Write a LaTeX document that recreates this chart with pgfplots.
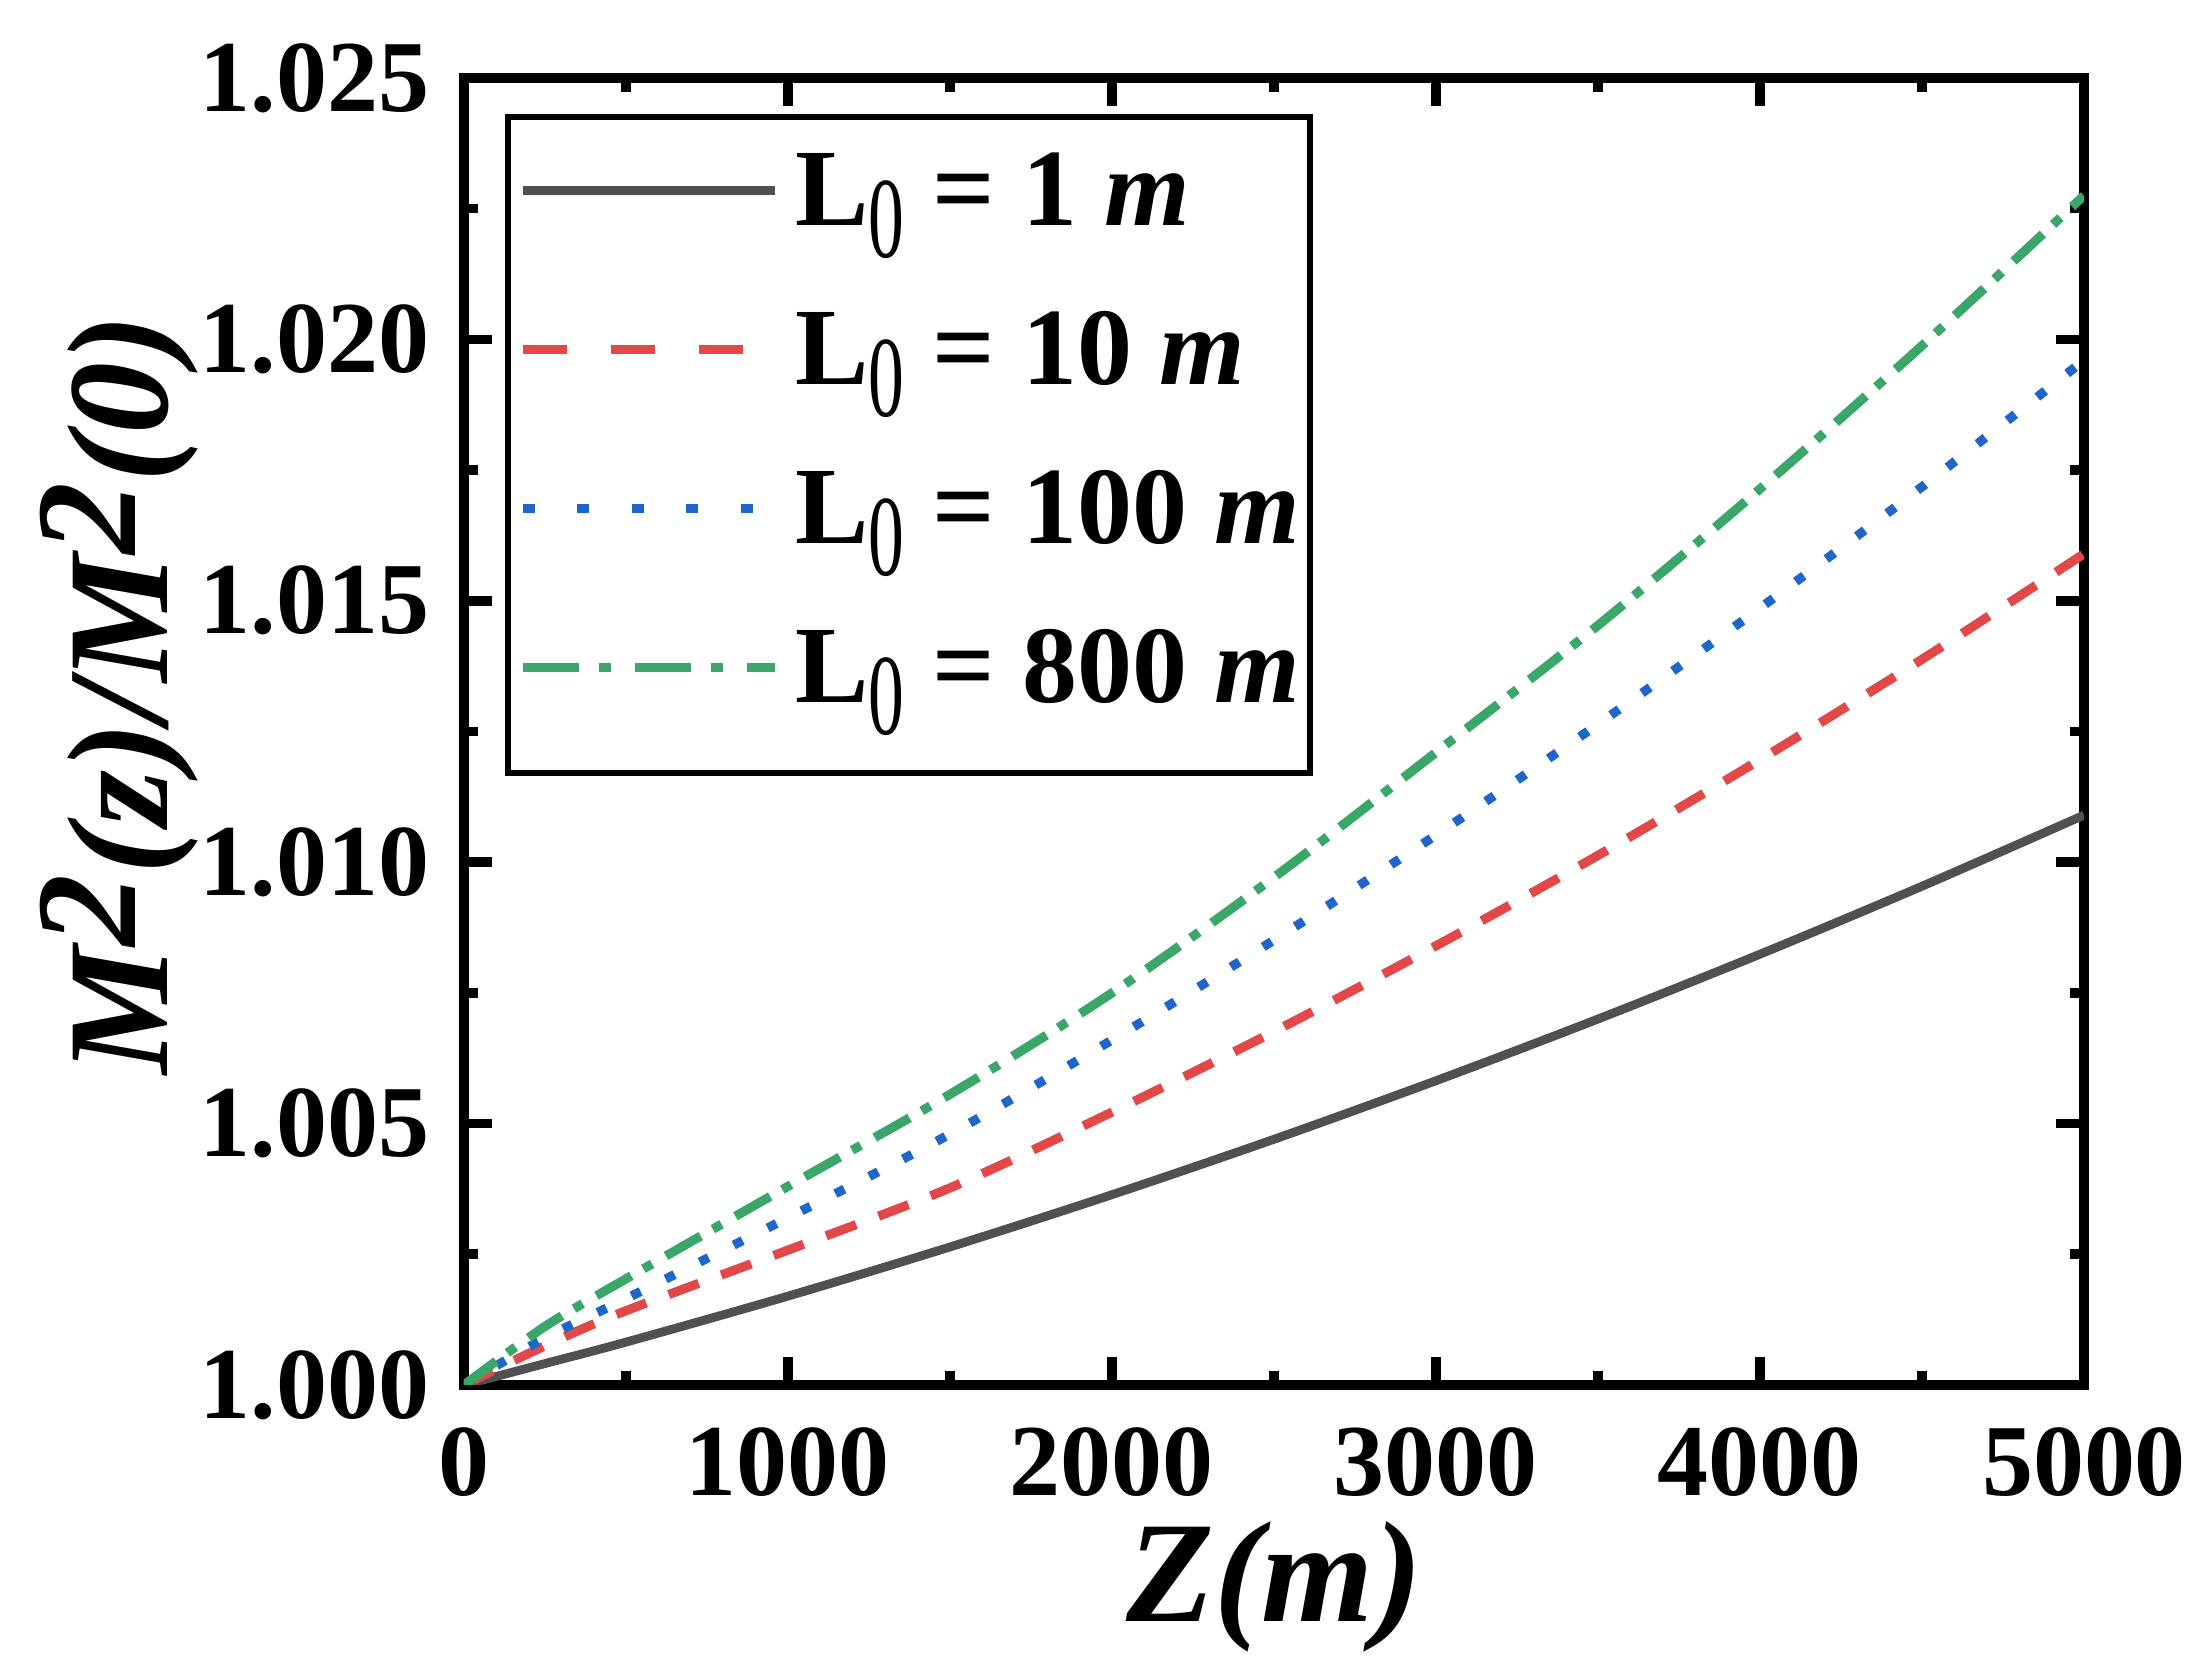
\documentclass[border=0pt]{standalone}
\usepackage{fontspec}
\setmainfont{Liberation Serif}
\usepackage{graphicx}
\usepackage{pgfplots}
\pgfplotsset{compat=1.18}
\definecolor{cgray}{HTML}{505050}
\definecolor{cred}{HTML}{E24848}
\definecolor{cblue}{HTML}{1F66CC}
\definecolor{cgreen}{HTML}{3AA66A}
\begin{document}
\begin{tikzpicture}
\useasboundingbox (-116pt,-70.5pt) rectangle (436pt,346.25pt);
\begin{axis}[
  at={(0,0)}, anchor=south west, scale only axis,
  width=405pt, height=326.75pt,
  xmin=0, xmax=5000, ymin=1, ymax=1.025,
  xtick={0,1000,2000,3000,4000,5000},
  ytick={1,1.005,1.01,1.015,1.02,1.025},
  minor x tick num=1, minor y tick num=1,
  scaled y ticks=false, scaled x ticks=false,
  tick align=inside, major tick length=7pt, minor tick length=3.5pt,
  every tick/.style={line width=2.4pt, black},
  axis line style={line width=2.4pt},
  /pgf/number format/assume math mode=true,
  xticklabel style={font=\fontsize{25.5}{30}\selectfont\bfseries, inner sep=0pt, yshift=-10.5pt,
    /pgf/number format/1000 sep={}},
  yticklabel style={font=\fontsize{25.5}{30}\selectfont\bfseries, inner sep=0pt, xshift=-8.5pt,
    /pgf/number format/.cd, fixed, fixed zerofill, precision=3},
  xlabel={\bfseries\itshape Z(m)},
  xlabel style={font=\fontsize{36}{40}\selectfont, at={(axis description cs:0.5,0)}, anchor=north, inner sep=0pt, yshift=-34pt},
  ylabel={\bfseries\itshape M\raisebox{0.22em}{2}(z)/M\raisebox{0.22em}{2}(0)},
  ylabel style={font=\fontsize{36}{40}\selectfont, at={(axis description cs:-0.1833,0.528)}, anchor=base, inner sep=0pt},
  legend cell align=left,
  legend style={at={(axis description cs:0.0255,0.9725)}, anchor=north west, draw=black, line width=1.5pt,
    inner xsep=2.5pt, inner ysep=7.5pt, row sep=10pt, column sep=4pt,
    font=\fontsize{27.5}{30}\selectfont\bfseries,
    nodes={inner sep=0pt, text height=19.75pt, text depth=10pt}},
  legend image code/.code={\path[draw=none] (0pt,-4pt) -- (0pt,4pt); \draw[#1] (0pt,4pt) -- (63pt,4pt);},
]
\addplot[cgray, line width=2.2pt, smooth] coordinates {
(0,1.0000) (250,1.00041) (500,1.00082) (1000,1.0017) (1500,1.00264) (2000,1.00364) (2500,1.0047) (3000,1.00582) (3500,1.0070) (4000,1.00824) (4500,1.00954) (5000,1.0109)};
\addlegendentry{L\raisebox{-8pt}{\mdseries\scalebox{0.65}[1.05]{0}} = 1 \textit{m}}
\addplot[cred, line width=2.3pt, smooth, dash pattern=on 8pt off 6pt, legend image post style={dash pattern=on 11pt off 11pt}] coordinates {
(0,1.0000) (250,1.00075) (500,1.00142) (1000,1.00258) (1500,1.00377) (2000,1.00522) (2500,1.00676) (3000,1.0084) (3500,1.01013) (4000,1.01196) (4500,1.01388) (5000,1.0159)};
\addlegendentry{L\raisebox{-8pt}{\mdseries\scalebox{0.65}[1.05]{0}} = 10 \textit{m}}
\addplot[cblue, line width=2.3pt, smooth, dash pattern=on 2.5pt off 7pt, legend image post style={dash pattern=on 3pt off 10.6pt}] coordinates {
(0,1.0000) (250,1.0009) (500,1.00165) (1000,1.0032) (1500,1.0048) (2000,1.0066) (2500,1.00851) (3000,1.01052) (3500,1.01264) (4000,1.01486) (4500,1.01718) (5000,1.0196)};
\addlegendentry{L\raisebox{-8pt}{\mdseries\scalebox{0.65}[1.05]{0}} = 100 \textit{m}}
\addplot[cgreen, line width=2.3pt, smooth, dash pattern=on 10pt off 3.5pt on 2.5pt off 4pt, legend image post style={dash pattern=on 14pt off 5pt on 3pt off 6pt}] coordinates {
(0,1.0000) (250,1.00112) (500,1.00203) (1000,1.0038) (1500,1.00556) (2000,1.0075) (2500,1.00971) (3000,1.0121) (3500,1.01453) (4000,1.01714) (4500,1.01988) (5000,1.02275)};
\addlegendentry{L\raisebox{-8pt}{\mdseries\scalebox{0.65}[1.05]{0}} = 800 \textit{m}}
\end{axis}
\end{tikzpicture}
\end{document}
